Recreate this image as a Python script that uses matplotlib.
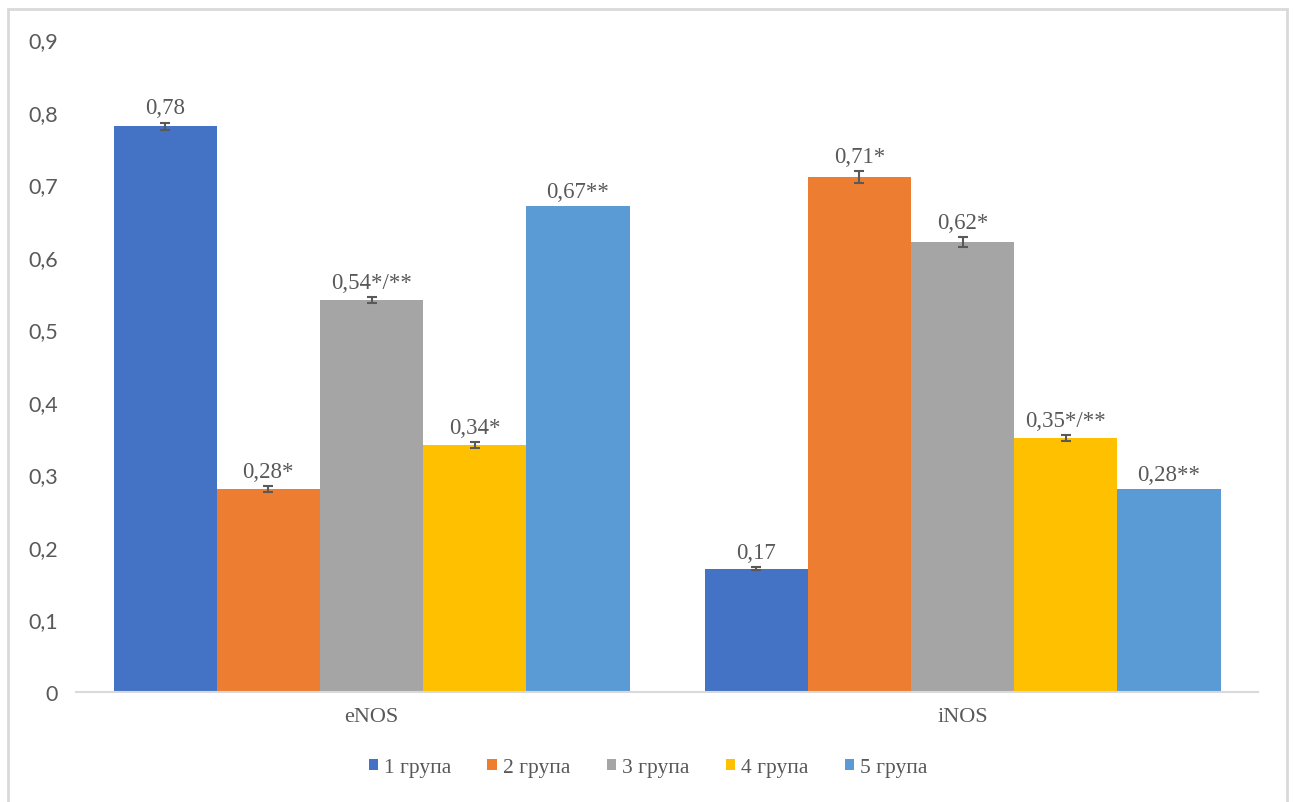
import matplotlib.pyplot as plt
import numpy as np
from matplotlib.patches import Rectangle

# NOS expression by group
categories = ['eNOS', 'iNOS']
groups = ['1 група', '2 група', '3 група', '4 група', '5 група']
values = [
    [0.78, 0.17],
    [0.28, 0.71],
    [0.54, 0.62],
    [0.34, 0.35],
    [0.67, 0.28],
]
errors = [
    [0.005, 0.002],
    [0.004, 0.008],
    [0.004, 0.007],
    [0.004, 0.004],
    [0.0, 0.0],
]
labels = [
    ['0,78', '0,17'],
    ['0,28*', '0,71*'],
    ['0,54*/**', '0,62*'],
    ['0,34*', '0,35*/**'],
    ['0,67**', '0,28**'],
]
colors = ['#4472C4', '#ED7D31', '#A5A5A5', '#FFC000', '#5B9BD5']

serif = 'Liberation Serif'
txt = '#595959'

fig = plt.figure(figsize=(12.93, 8.03), dpi=100)
ax = fig.add_axes([0.0588, 0.137, 0.9142, 0.813])

x = np.arange(len(categories))
w = 0.1746
for i in range(len(groups)):
    pos = x + (i - 2) * w
    ax.bar(pos, values[i], w, color=colors[i], label=groups[i], zorder=2)
    for j in range(len(categories)):
        if errors[i][j] > 0:
            ax.errorbar(pos[j], values[i][j], yerr=errors[i][j], fmt='none',
                        ecolor=txt, elinewidth=1.5, capsize=3.5, capthick=1.5, zorder=3)
        ax.annotate(labels[i][j], (pos[j], values[i][j] + errors[i][j]),
                    xytext=(0, 3), textcoords='offset points', ha='center', va='bottom',
                    fontsize=16.5, family=serif, color=txt)

ax.set_xlim(-0.5, 1.5)
ax.set_ylim(0, 0.9)
ax.set_yticks(np.arange(0, 0.91, 0.1))
ax.set_yticklabels(['0'] + ['0,%d' % k for k in range(1, 10)], family='Lato', fontsize=15.5, color=txt)
ax.set_xticks(x)
ax.set_xticklabels(categories, family=serif, fontsize=16, color=txt)
ax.tick_params(axis='both', length=0)
ax.tick_params(axis='y', pad=13)
ax.tick_params(axis='x', pad=11)

for s in ['top', 'right', 'left']:
    ax.spines[s].set_visible(False)
ax.spines['bottom'].set_color('#d9d9d9')
ax.spines['bottom'].set_linewidth(1.5)

leg = fig.legend(loc='center', bbox_to_anchor=(0.501, 0.043), ncol=5, frameon=False,
                 prop={'family': serif, 'size': 15.5}, handlelength=0.45, handleheight=0.45,
                 handletextpad=0.25, columnspacing=1.7)
for t in leg.get_texts():
    t.set_color(txt)

# outer chart border
fig.patches.append(Rectangle((8 / 1293, -0.05), 1279 / 1293, 1.05 - 10 / 803,
                             transform=fig.transFigure, fill=False,
                             edgecolor='#d9d9d9', linewidth=2))

fig.savefig('out.png', dpi=100)
